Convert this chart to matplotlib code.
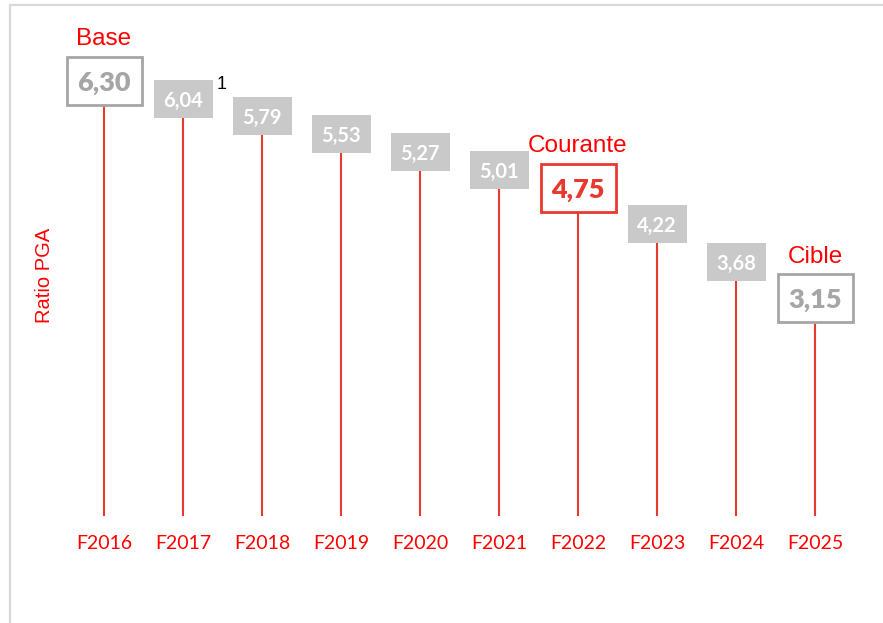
import matplotlib.pyplot as plt
from matplotlib.patches import Rectangle
from matplotlib.transforms import ScaledTranslation

# data
years = ["F2016", "F2017", "F2018", "F2019", "F2020",
         "F2021", "F2022", "F2023", "F2024", "F2025"]
ratio = [6.30, 6.04, 5.79, 5.53, 5.27, 5.01, 4.75, 4.22, 3.68, 3.15]
# highlighted points: index -> caption
highlights = {0: "Base", 6: "Courante", 9: "Cible"}

RED = "#FF0000"
STEM = "#E8392F"
GREY_FILL = "#C9C9C9"
GREY_TXT = "#A6A6A6"

fig = plt.figure(figsize=(8.83, 6.23), dpi=100)
ax = fig.add_axes([64.5 / 883, (623 - 516) / 623, 790 / 883, 476.8 / 623])
ax.set_xlim(-0.5, len(years) - 0.5)
ax.set_ylim(0, 6.9)

# outer frame of the chart area
fig.patches.append(Rectangle((10 / 883, -0.1), 1.2, (618 / 623) + 0.1,
                             transform=fig.transFigure, fill=False,
                             edgecolor="#D9D9D9", lw=1.6))

x = list(range(len(years)))
ax.vlines(x, 0, ratio, color=STEM, lw=1.5, zorder=1)

for i, v in enumerate(ratio):
    label = f"{v:.2f}".replace(".", ",")
    big = i in highlights
    w, h = (0.75, 0.48) if big else (0.59, 0.38)
    tr = fig.dpi_scale_trans + ScaledTranslation(i, v, ax.transData)
    if big:
        col = STEM if i == 6 else GREY_TXT
        ax.add_patch(Rectangle((-w / 2, -h / 2), w, h, transform=tr,
                               facecolor="white", edgecolor=col, lw=2,
                               zorder=3, clip_on=False))
        ax.text(i, v, label, ha="center", va="center_baseline", color=col,
                fontsize=19.5, fontweight="heavy", family="Lato", zorder=4)
        ax.annotate(highlights[i], (i, v), xytext=(0, 30),
                    textcoords="offset points", ha="center", va="center",
                    color=RED, fontsize=17.5, family="Liberation Sans")
    else:
        ax.add_patch(Rectangle((-w / 2, -h / 2), w, h, transform=tr,
                               facecolor=GREY_FILL, edgecolor="none",
                               zorder=3, clip_on=False))
        ax.text(i, v, label, ha="center", va="center_baseline", color="white",
                fontsize=14.5, fontweight="bold", family="Lato", zorder=4)

# footnote marker
ax.annotate("1", (1, ratio[1]), xytext=(28, 10), textcoords="offset points",
            ha="center", va="center", color="black", fontsize=13,
            family="Liberation Sans")

ax.set_xticks(x)
ax.set_xticklabels(years, color=RED, fontsize=14, family="Lato")
ax.tick_params(axis="x", length=0, pad=14)
ax.set_yticks([])
for s in ax.spines.values():
    s.set_visible(False)

fig.text(45 / 883, 1 - 275 / 623, "Ratio PGA", rotation=90, ha="center",
         va="center", color=RED, fontsize=14.5, family="Liberation Sans")

fig.savefig("out.png", dpi=100)
